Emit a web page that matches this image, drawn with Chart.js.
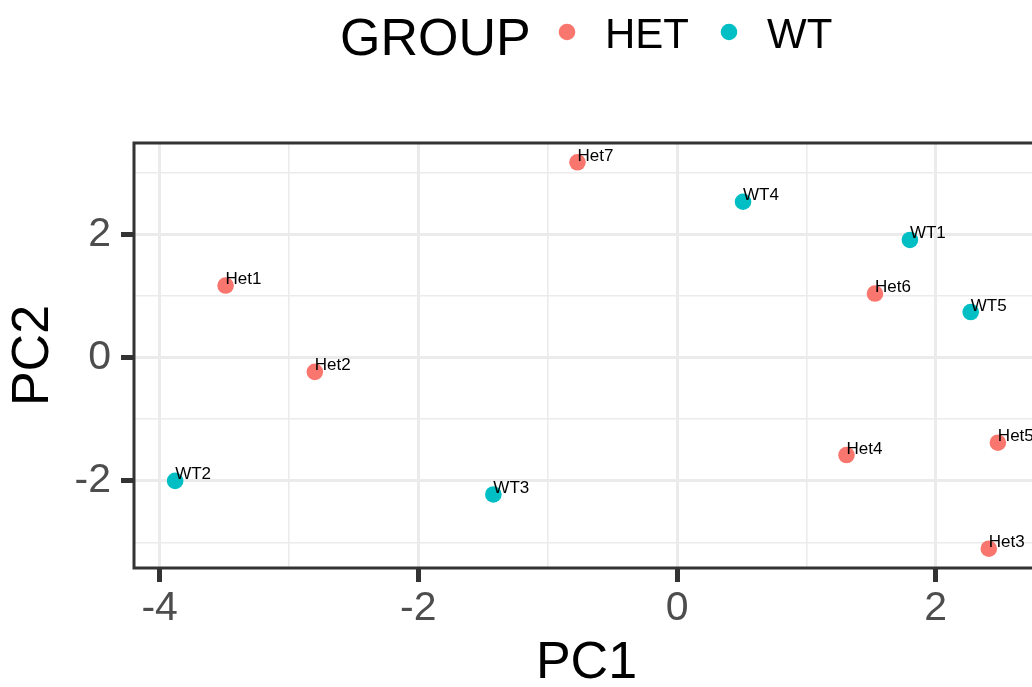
<!DOCTYPE html>
<html>
<head>
<meta charset="utf-8">
<script src="https://cdn.jsdelivr.net/npm/chart.js@4/dist/chart.umd.min.js"></script>
<style>
  html, body { margin: 0; padding: 0; background: #fff; overflow: hidden; }
  #wrap { width: 1060px; height: 687px; }
</style>
</head>
<body>
<div id="wrap"><canvas id="pca" width="1060" height="687"></canvas></div>
<script>
// PCA scores per sample
const hetNames = ['Het1', 'Het2', 'Het3', 'Het4', 'Het5', 'Het6', 'Het7'];
const hetPC1 = [-3.49, -2.80, 2.41, 1.31, 2.48, 1.53, -0.77];
const hetPC2 = [1.17, -0.23, -3.10, -1.58, -1.38, 1.04, 3.17];

const wtNames = ['WT1', 'WT2', 'WT3', 'WT4', 'WT5'];
const wtPC1 = [1.80, -3.88, -1.42, 0.51, 2.27];
const wtPC2 = [1.91, -2.00, -2.22, 2.53, 0.74];

const groupTitle = 'GROUP';
const groupLabels = ['HET', 'WT'];
const groupColors = ['#F8766D', '#00BFC4'];

const FONT = '"Liberation Sans", Arial, Helvetica, sans-serif';

// axis limits padded by 5% of the data range on each side
function padded(values) {
  const lo = Math.min(...values), hi = Math.max(...values);
  const d = (hi - lo) * 0.05;
  return [lo - d, hi + d];
}
const [xMin, xMax] = padded(hetPC1.concat(wtPC1));
const [yMin, yMax] = padded(hetPC2.concat(wtPC2));

function pts(xs, ys, names) {
  return xs.map((x, i) => ({ x: x, y: ys[i], name: names[i] }));
}

const isMajor = v => Math.abs(Math.round(v)) % 2 === 0;

// sample names written to the upper right of each point
const pointLabels = {
  id: 'pointLabels',
  afterDatasetsDraw(chart) {
    const ctx = chart.ctx;
    ctx.save();
    ctx.font = '17px ' + FONT;
    ctx.fillStyle = '#000000';
    ctx.textAlign = 'left';
    ctx.textBaseline = 'alphabetic';
    chart.data.datasets.forEach((ds, di) => {
      chart.getDatasetMeta(di).data.forEach((el, i) => {
        ctx.fillText(ds.data[i].name, el.x, el.y - 1.5);
      });
    });
    ctx.restore();
  }
};

// panel outline drawn on all four sides
const panelBorder = {
  id: 'panelBorder',
  afterDraw(chart) {
    const { left, top, right, bottom } = chart.chartArea;
    const ctx = chart.ctx;
    ctx.save();
    ctx.strokeStyle = '#333333';
    ctx.lineWidth = 3;
    ctx.strokeRect(left, top, right - left, bottom - top);
    ctx.restore();
  }
};

// horizontal legend with title above the panel
const groupLegend = {
  id: 'groupLegend',
  afterDraw(chart) {
    const ctx = chart.ctx;
    ctx.save();
    ctx.textAlign = 'left';
    ctx.textBaseline = 'alphabetic';
    ctx.fillStyle = '#000000';
    ctx.font = '52px ' + FONT;
    ctx.fillText(groupTitle, 340, 55);
    const dotX = [567, 729];
    const textX = [605, 767];
    ctx.font = '42px ' + FONT;
    groupLabels.forEach((lab, i) => {
      ctx.beginPath();
      ctx.fillStyle = chart.data.datasets[i].backgroundColor;
      ctx.arc(dotX[i], 32, 8.3, 0, Math.PI * 2);
      ctx.fill();
      ctx.fillStyle = '#000000';
      ctx.fillText(lab, textX[i], 48);
    });
    ctx.restore();
  }
};

const gridOpts = {
  color: '#EBEBEB',
  lineWidth: c => (c.tick && isMajor(c.tick.value)) ? 3 : 1.6,
  tickColor: c => (c.tick && isMajor(c.tick.value)) ? '#333333' : 'rgba(0,0,0,0)',
  tickWidth: 5,
  drawTicks: true
};

new Chart(document.getElementById('pca'), {
  type: 'scatter',
  data: {
    datasets: [
      {
        label: groupLabels[0],
        data: pts(hetPC1, hetPC2, hetNames),
        backgroundColor: groupColors[0],
        borderWidth: 0,
        pointRadius: 8.3,
        pointHoverRadius: 8.3
      },
      {
        label: groupLabels[1],
        data: pts(wtPC1, wtPC2, wtNames),
        backgroundColor: groupColors[1],
        borderWidth: 0,
        pointRadius: 8.3,
        pointHoverRadius: 8.3
      }
    ]
  },
  options: {
    responsive: false,
    devicePixelRatio: 1,
    animation: false,
    events: [],
    layout: { padding: { top: 143, right: 21, left: 0, bottom: 0 } },
    plugins: {
      legend: { display: false },
      tooltip: { enabled: false }
    },
    scales: {
      x: {
        type: 'linear',
        position: 'bottom',
        min: xMin,
        max: xMax,
        afterFit(s) { s.height = 119; },
        border: { display: false },
        grid: Object.assign({ tickLength: 14 }, gridOpts),
        ticks: {
          stepSize: 1,
          includeBounds: false,
          autoSkip: false,
          maxRotation: 0,
          padding: 2.5,
          color: '#4D4D4D',
          font: { family: FONT, size: 41 },
          callback: v => isMajor(v) ? String(v) : ''
        },
        title: {
          display: true,
          text: 'PC1',
          color: '#000000',
          font: { family: FONT, size: 52, lineHeight: 0.885 },
          padding: { top: 0, bottom: 0 }
        }
      },
      y: {
        type: 'linear',
        position: 'left',
        min: yMin,
        max: yMax,
        afterFit(s) { s.width = 134; },
        border: { display: false },
        grid: Object.assign({ tickLength: 13 }, gridOpts),
        ticks: {
          stepSize: 1,
          includeBounds: false,
          autoSkip: false,
          padding: 10,
          color: '#4D4D4D',
          font: { family: FONT, size: 41 },
          callback: v => isMajor(v) ? String(v) : ''
        },
        title: {
          display: true,
          text: 'PC2',
          color: '#000000',
          font: { family: FONT, size: 52, lineHeight: 1.2 },
          padding: { top: 2.3, bottom: 0 }
        }
      }
    }
  },
  plugins: [pointLabels, panelBorder, groupLegend]
});
</script>
</body>
</html>
